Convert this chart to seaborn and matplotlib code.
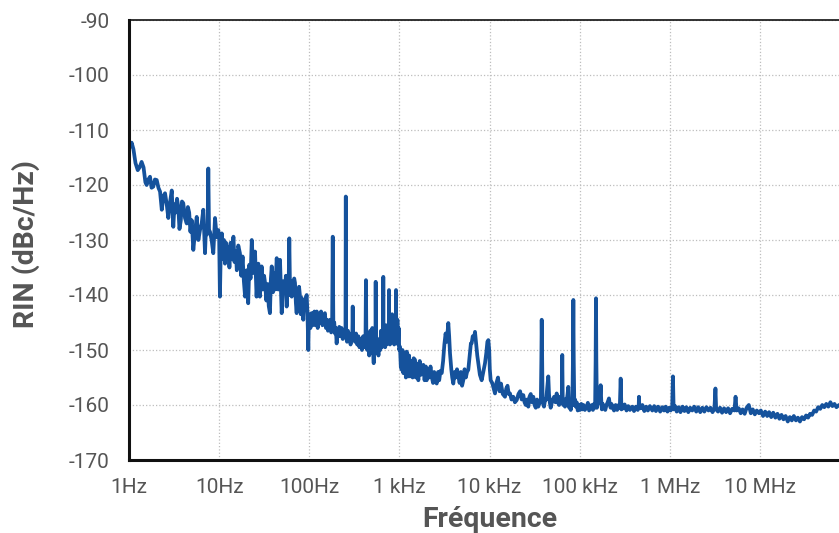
import matplotlib
matplotlib.use("Agg")
import matplotlib.pyplot as plt
import matplotlib.ticker as mticker
import pandas as pd
import seaborn as sns

# RIN spectrum, one pair of lists per decade
# (frequency in Hz, RIN in dBc/Hz)
freq_1hz = [
    1.0, 1.03, 1.07, 1.12, 1.18, 1.25, 1.31, 1.38, 1.45, 1.52, 1.57, 1.64, 1.71, 1.78, 1.86,
    1.94, 2.03, 2.12, 2.21, 2.31, 2.41, 2.51, 2.62, 2.73, 2.86, 2.98, 3.10, 3.20, 3.30, 3.41,
    3.52, 3.63, 3.75, 3.87, 4.00, 4.18, 4.37, 4.50, 4.65, 4.80, 4.96, 5.17, 5.40, 5.64, 5.88,
    6.13, 6.40, 6.67, 6.97, 7.15, 7.30, 7.45, 7.58, 7.72, 7.91, 8.25, 8.61, 9.0, 9.4, 9.79, 10.0,
]
rin_1hz = [
    -113.3, -113.0, -112.3, -113.5, -116.0, -117.3, -116.8, -115.8, -116.8, -119.5, -120.0, -119.0, -118.5, -120.5, -120.3,
    -119.0, -119.1, -120.5, -121.2, -124.5, -122.0, -121.5, -123.5, -126.0, -123.0, -121.0, -127.6, -123.5, -125.0, -122.5,
    -124.0, -128.0, -126.5, -123.0, -123.3, -126.0, -127.0, -124.0, -125.0, -128.5, -126.4, -131.8, -128.5, -125.8, -130.0,
    -128.2, -127.0, -124.5, -132.4, -127.5, -129.0, -127.5, -117.0, -128.2, -128.5, -130.0, -132.4, -126.0, -129.5, -128.2, -129.5,
]

freq_10hz = [
    10.2, 10.45, 10.7, 11.0, 11.3, 11.6, 11.9, 12.3, 12.6, 13.0, 13.4, 13.8, 14.4, 14.8, 15.3,
    15.7, 16.3, 17.0, 17.6, 18.2, 18.8, 19.4, 20.2, 21.0, 21.6, 22.3, 23.0, 24.0, 25.0, 26.0,
    27.2, 28.3, 29.6, 30.5, 31.5, 32.3, 33.4, 34.5, 35.5, 36.6, 37.5, 38.3, 39.5, 40.8, 42.0,
    43.5, 45.3, 47.3, 48.3, 49.4, 51.5, 53.7, 55.0, 56.1, 57.5, 58.8, 60.0, 61.2, 62.5, 63.8,
    65.0, 66.5, 68.0, 69.4, 71.0, 72.4, 74.0, 75.5, 77.0, 78.9, 80.5, 82.0, 84.0, 85.8, 87.5,
    89.5, 91.5, 93.5, 95.5, 97.5, 99.0,
]
rin_10hz = [
    -140.3, -131.0, -128.8, -133.5, -130.0, -134.3, -130.5, -133.0, -131.2, -135.0, -130.5, -133.5, -129.4, -134.0, -132.0,
    -135.5, -131.0, -132.4, -136.5, -133.0, -137.5, -140.3, -135.5, -141.5, -134.5, -137.0, -130.0, -136.0, -132.1, -140.3,
    -134.3, -140.3, -134.8, -139.0, -136.5, -137.8, -141.0, -138.0, -142.0, -143.3, -137.0, -134.8, -139.5, -136.0, -139.0,
    -133.3, -139.0, -133.6, -138.0, -143.3, -137.5, -139.1, -136.5, -142.1, -138.0, -140.0, -129.7, -140.0, -139.0, -140.3,
    -137.5, -139.5, -137.0, -137.8, -141.5, -143.3, -139.0, -141.0, -138.5, -140.3, -143.5, -140.5, -142.5, -144.5, -141.0,
    -142.5, -140.5, -140.0, -143.5, -150.0, -143.5,
]

freq_100hz = [
    100, 103, 106, 109, 111, 114, 117, 121, 124, 128, 131, 135, 140, 144, 149,
    153, 157, 161, 165, 170, 175, 179, 182, 185, 189, 193, 197, 201, 206, 210,
    215, 220, 228, 235, 242, 249, 252, 254, 256, 262, 268, 273, 280, 287, 294,
    300, 303, 306, 313, 321, 330, 340, 350, 360, 372, 384, 396, 410, 420, 425,
    430, 440, 451, 462, 475, 488, 500, 510, 518, 525, 534, 542, 545, 549, 560,
    572, 585, 598, 612, 625, 638, 650, 658, 662, 666, 680, 694, 710, 724, 740,
    755, 763, 766, 770, 785, 800, 815, 830, 845, 860, 875, 890, 905, 913, 916,
    920, 935, 950, 965, 980, 995,
]
rin_100hz = [
    -144.0, -146.0, -143.3, -145.5, -145.1, -143.0, -145.5, -143.0, -146.0, -144.0, -145.1, -143.0, -145.5, -143.8, -143.3,
    -146.0, -144.5, -146.5, -145.8, -144.5, -146.8, -146.0, -129.4, -146.5, -145.0, -147.0, -146.0, -148.8, -146.5, -147.5,
    -145.8, -147.5, -146.0, -148.0, -146.5, -147.5, -146.5, -122.1, -147.5, -148.5, -146.5, -148.2, -147.0, -149.0, -147.5,
    -148.0, -142.1, -148.0, -147.0, -148.5, -147.0, -149.0, -147.5, -149.5, -148.0, -150.0, -147.5, -149.5, -148.5, -137.3,
    -149.0, -150.0, -148.5, -151.0, -146.5, -150.5, -146.0, -150.0, -152.4, -148.0, -150.5, -148.5, -137.6, -149.0, -150.5,
    -148.5, -151.0, -148.0, -150.0, -146.5, -149.5, -147.0, -148.0, -136.7, -149.0, -146.0, -149.5, -145.5, -149.0, -146.0,
    -148.5, -146.0, -139.1, -146.5, -149.0, -144.5, -148.5, -143.5, -148.0, -144.0, -149.0, -145.0, -148.5, -146.0, -139.1,
    -145.0, -148.5, -144.5, -149.0, -146.0, -150.0,
]

freq_1khz = [
    1014, 1035, 1059, 1080, 1104, 1128, 1153, 1178, 1203, 1228, 1253, 1280, 1309, 1340, 1367,
    1400, 1440, 1489, 1520, 1560, 1620, 1680, 1740, 1800, 1840, 1900, 1960, 2005, 2080, 2140,
    2210, 2279, 2360, 2430, 2510, 2590, 2680, 2760, 2850, 2943, 3050, 3150, 3250, 3350, 3483,
    3560, 3637, 3760, 3850, 3957, 4100, 4200, 4350, 4497, 4650, 4800, 4950, 5105, 5280, 5450,
    5620, 5803, 6050, 6200, 6324, 6500, 6700, 6887, 7100, 7300, 7499, 7800, 8166, 8500, 8892,
    9200, 9450, 9683, 9900, 10050,
]
rin_1khz = [
    -149.4, -153.0, -153.6, -150.0, -154.2, -151.5, -150.6, -155.0, -150.3, -153.5, -154.8, -151.0, -154.8, -152.0, -152.4,
    -155.0, -151.5, -151.8, -155.0, -152.5, -155.5, -152.0, -154.5, -153.0, -152.7, -155.5, -153.0, -155.5, -153.5, -155.0,
    -153.0, -154.8, -156.0, -154.0, -155.5, -156.1, -154.0, -155.5, -153.8, -154.2, -152.0, -149.0, -147.0, -148.5, -145.1,
    -147.5, -150.6, -153.5, -155.0, -156.1, -154.0, -155.0, -153.5, -154.8, -156.0, -154.0, -156.5, -155.5, -153.5, -155.0,
    -154.0, -153.6, -150.5, -148.8, -148.8, -147.5, -148.0, -146.7, -149.0, -151.0, -152.4, -154.5, -155.5, -154.0, -152.4,
    -150.5, -148.5, -148.2, -150.0, -153.5,
]

freq_10khz = [
    10280, 10700, 11100, 11480, 11900, 12400, 12900, 13370, 14000, 14820, 15300, 15800, 16300, 16830, 17500,
    18300, 19100, 20000, 20900, 21800, 22700, 23660, 24400, 25200, 26000, 26870, 27700, 28600, 29500, 30530,
    31500, 32500, 33600, 34670, 35800, 37000, 37500, 37840, 38200, 38700, 40110, 41300, 42500, 43500, 44770,
    45600, 46500, 47600, 48860, 50400, 52000, 53700, 55470, 57200, 59000, 60800, 62500, 63300, 63980, 64700,
    65500, 67000, 68550, 70300, 72000, 73300, 74640, 75500, 76500, 78000, 79430, 81000, 82800, 84000, 84920,
    85800, 87000, 88500, 90190, 92500, 95000, 97800,
]
rin_10khz = [
    -155.5, -156.0, -157.0, -157.9, -156.0, -155.0, -157.5, -156.1, -158.0, -158.5, -157.0, -156.5, -158.0, -157.9, -159.0,
    -158.5, -159.5, -159.1, -158.0, -157.5, -159.0, -158.2, -159.5, -160.0, -159.0, -160.3, -158.5, -158.0, -159.5, -158.5,
    -160.0, -160.5, -159.0, -160.3, -159.5, -159.5, -152.0, -144.5, -150.0, -159.5, -160.3, -159.0, -159.0, -157.0, -154.8,
    -158.0, -159.5, -160.5, -159.7, -159.0, -158.5, -159.5, -157.9, -159.5, -160.0, -158.5, -159.5, -158.0, -150.9, -158.5,
    -160.0, -159.0, -160.3, -159.0, -159.0, -158.0, -156.7, -159.0, -160.5, -159.5, -160.9, -159.5, -160.0, -152.0, -140.9,
    -152.0, -160.0, -159.0, -160.3, -159.5, -161.0, -160.0,
]

freq_100khz = [
    100700, 104000, 107000, 110000, 114000, 119400, 123000, 127000, 131000, 135800, 140000, 144000, 148000, 150000, 151400,
    152800, 155000, 160000, 165000, 168000, 170600, 173000, 176000, 180000, 185700, 192000, 198000, 204000, 210900, 216000,
    220000, 225000, 229600, 240000, 250000, 260000, 270000, 278000, 284400, 290000, 301900, 315000, 330000, 345000, 360000,
    382800, 400000, 420000, 440000, 450000, 454200, 458000, 474300, 495000, 520000, 545000, 570000, 600000, 638000, 670000,
    700000, 740000, 780000, 820000, 860000, 897500, 940000, 980000,
]
rin_100khz = [
    -160.9, -159.8, -160.8, -160.0, -160.9, -160.3, -159.6, -161.0, -160.2, -160.0, -160.9, -159.8, -160.5, -152.0, -140.6,
    -152.0, -160.5, -159.5, -159.5, -158.5, -156.4, -159.0, -160.8, -159.8, -160.3, -160.9, -160.0, -159.5, -158.8, -160.0,
    -160.5, -159.8, -160.3, -161.0, -160.0, -160.9, -160.0, -160.5, -155.2, -160.8, -160.6, -159.9, -161.0, -160.2, -160.9,
    -160.3, -161.1, -160.3, -160.9, -160.5, -158.5, -160.5, -160.6, -160.0, -161.1, -160.3, -161.0, -160.2, -161.0, -160.2,
    -161.1, -160.3, -161.2, -160.4, -161.0, -160.3, -161.2, -160.5,
]

freq_1mhz = [
    1020000, 1060000, 1081000, 1100000, 1140000, 1190000, 1250000, 1310000, 1380000, 1450000, 1520000, 1600000, 1680000, 1771000, 1860000,
    1960000, 2060000, 2170000, 2290000, 2410000, 2540000, 2680000, 2820000, 2970000, 3120000, 3200000, 3260000, 3420000, 3600000, 3790000,
    3990000, 4200000, 4420000, 4650000, 4900000, 5200000, 5350000, 5500000, 5800000, 6100000, 6400000, 6750000, 7100000, 7500000, 7900000,
    8300000, 8750000, 9200000, 9730000, 10200000, 10800000, 11400000, 12000000, 12600000, 13300000, 14000000, 14800000, 15600000, 16400000, 17300000,
    18200000, 19200000, 20300000, 21400000, 22500000, 23700000, 25000000, 26300000, 27700000, 29200000, 30800000, 32400000, 34100000, 35900000, 37800000,
    39800000, 41900000, 44100000, 46500000, 49000000, 51600000, 54300000, 57200000, 60300000, 63500000, 66900000, 70400000, 75160000,
]
rin_1mhz = [
    -161.0, -160.5, -154.8, -160.8, -160.2, -161.2, -160.4, -161.3, -160.3, -161.1, -160.4, -161.3, -160.5, -161.0, -160.3,
    -161.2, -160.4, -161.3, -160.5, -161.2, -160.4, -161.0, -160.5, -161.3, -160.6, -157.0, -160.8, -161.2, -160.5, -161.4,
    -160.6, -161.3, -160.6, -161.5, -160.7, -161.0, -158.5, -161.0, -160.6, -161.5, -160.8, -161.6, -160.5, -160.0, -161.5,
    -160.8, -161.7, -161.0, -161.5, -161.0, -162.0, -161.2, -162.0, -161.3, -162.2, -161.4, -162.3, -161.6, -162.5, -161.8,
    -162.6, -162.0, -163.0, -162.2, -162.8, -162.0, -162.8, -162.3, -163.0, -162.2, -162.6, -161.9, -162.3, -161.6, -161.8,
    -161.0, -161.2, -160.4, -160.7, -160.0, -160.4, -159.8, -160.3, -159.5, -160.2, -159.8, -160.4, -160.0,
]

tick_freqs = [1, 10, 100, 1e3, 1e4, 1e5, 1e6, 1e7]
tick_labels = ["1Hz", "10Hz", "100Hz", "1 kHz", "10 kHz", "100 kHz", "1 MHz", "10 MHz"]
y_ticks = [-90, -100, -110, -120, -130, -140, -150, -160, -170]

df = pd.DataFrame({
    "freq": freq_1hz + freq_10hz + freq_100hz + freq_1khz + freq_10khz + freq_100khz + freq_1mhz,
    "rin": rin_1hz + rin_10hz + rin_100hz + rin_1khz + rin_10khz + rin_100khz + rin_1mhz,
})

sns.set_style("white")
plt.rcParams["font.family"] = ["Roboto", "DejaVu Sans"]

fig = plt.figure(figsize=(8.39, 5.33), dpi=100)
ax = fig.add_axes([129 / 839, 73 / 533, 710 / 839, 440 / 533])

sns.lineplot(data=df, x="freq", y="rin", ax=ax, color="#15529c", linewidth=2.7,
             estimator=None, sort=False)

ax.set_xscale("log")
ax.set_xlim(1, 10 ** (710 / 90.15))
ax.set_ylim(-170, -90)
ax.set_xticks(tick_freqs)
ax.set_xticklabels(tick_labels)
ax.xaxis.set_minor_locator(mticker.NullLocator())
ax.set_yticks(y_ticks)
ax.set_yticklabels([str(v) for v in y_ticks])

ax.grid(True, linestyle=":", color="#bdbdbd", linewidth=0.9)
ax.tick_params(length=0, labelsize=15, colors="#555555")
ax.tick_params(axis="x", pad=13)
ax.tick_params(axis="y", pad=14)

ax.spines["right"].set_visible(False)
ax.spines["top"].set_linewidth(1.2)
ax.spines["left"].set_linewidth(2.2)
ax.spines["bottom"].set_linewidth(2.2)
for s in ["top", "left", "bottom"]:
    ax.spines[s].set_color("#111111")

ax.set_xlabel("Fréquence", fontsize=20.5, fontweight="bold", color="#555555")
ax.set_ylabel("RIN (dBc/Hz)", fontsize=20.5, fontweight="bold", color="#555555")
ax.xaxis.set_label_coords(0.508, -0.105)
ax.yaxis.set_label_coords(-0.125, 0.49)

fig.savefig("out.png", dpi=100)
